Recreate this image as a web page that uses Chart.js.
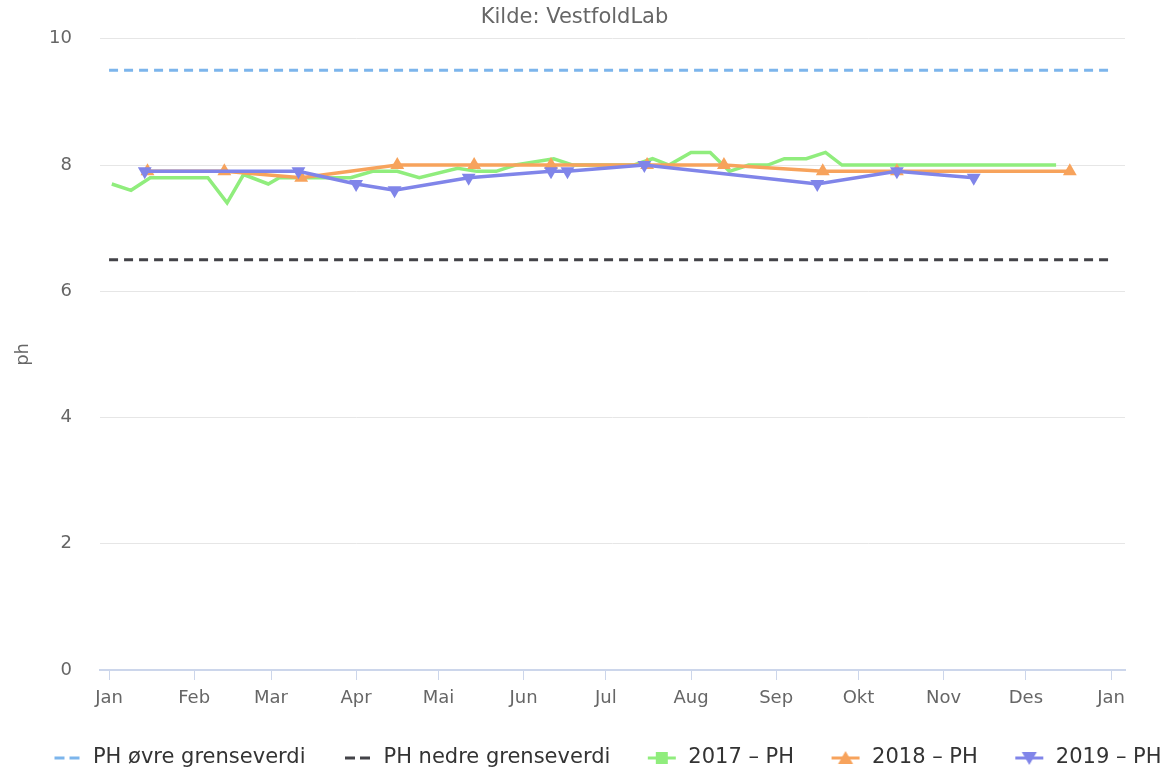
<!DOCTYPE html>
<html>
<head>
<meta charset="utf-8">
<title>pH VestfoldLab</title>
<script src="https://cdn.jsdelivr.net/npm/chart.js@4.4.1/dist/chart.umd.min.js"></script>
<style>
    html, body { margin: 0; padding: 0; background: #ffffff; }
    #phChart { display: block; }
</style>
</head>
<body>
<canvas id="phChart" width="1171" height="775"></canvas>
<script>
// x axis: day of year, ticks on first day of each month
var monthDays = [0, 31, 59, 90, 120, 151, 181, 212, 243, 273, 304, 334, 365];
var monthLabels = ["Jan", "Feb", "Mar", "Apr", "Mai", "Jun", "Jul", "Aug", "Sep", "Okt", "Nov", "Des", "Jan"];
var yTicks = [0, 2, 4, 6, 8, 10];

// grenseverdier
var limitDays = [0, 365];
var upperLimit = [9.5, 9.5];
var lowerLimit = [6.5, 6.5];

// 2017 - PH
var days2017 = [1, 8, 15, 36, 43, 49, 58, 62, 77, 88, 96, 105, 113, 127, 134, 141, 148, 162, 169, 191, 198, 204, 212, 219, 226, 233, 240, 246, 254, 261, 267, 345];
var ph2017 = [7.7, 7.6, 7.8, 7.8, 7.4, 7.85, 7.7, 7.8, 7.8, 7.8, 7.9, 7.9, 7.8, 7.95, 7.9, 7.9, 8.0, 8.1, 8.0, 8.0, 8.1, 8.0, 8.2, 8.2, 7.9, 8.0, 8.0, 8.1, 8.1, 8.2, 8.0, 8.0];

// 2018 - PH
var days2018 = [14, 42, 70, 105, 133, 161, 196, 224, 260, 287, 350];
var ph2018 = [7.9, 7.9, 7.8, 8.0, 8.0, 8.0, 8.0, 8.0, 7.9, 7.9, 7.9];

// 2019 - PH
var days2019 = [13, 69, 90, 104, 131, 161, 167, 195, 258, 287, 315];
var ph2019 = [7.9, 7.9, 7.7, 7.6, 7.8, 7.9, 7.9, 8.0, 7.7, 7.9, 7.8];

var titleText = "Kilde: VestfoldLab";

function points(xs, ys) {
    return xs.map(function (x, i) {
        return {x: x, y: ys[i]};
    });
}

// legend symbol: line (maybe dashed) with a marker, drawn at the right of a wide box
function legendIcon(color, dash, marker) {
    var c = document.createElement("canvas");
    c.width = 60;
    c.height = 20;
    var g = c.getContext("2d");
    g.strokeStyle = color;
    g.fillStyle = color;
    g.lineWidth = 3;
    if (dash) {
        g.setLineDash(dash);
    }
    g.beginPath();
    g.moveTo(dash ? 32 : 30, 10);
    g.lineTo(58, 10);
    g.stroke();
    if (marker === "square") {
        g.fillRect(38, 4, 12, 12);
    } else if (marker === "up") {
        g.beginPath();
        g.moveTo(44, 3);
        g.lineTo(51.5, 16);
        g.lineTo(36.5, 16);
        g.closePath();
        g.fill();
    } else if (marker === "down") {
        g.beginPath();
        g.moveTo(36.5, 4);
        g.lineTo(51.5, 4);
        g.lineTo(44, 17);
        g.closePath();
        g.fill();
    }
    return c;
}

var font = "'DejaVu Sans', Verdana, sans-serif";

// source line above the plot, a bit left of the canvas centre
var sourceTitle = {
    id: "sourceTitle",
    afterDraw: function (chart) {
        var ctx = chart.ctx;
        ctx.save();
        ctx.font = "21px " + font;
        ctx.fillStyle = "#666666";
        ctx.textAlign = "center";
        ctx.textBaseline = "middle";
        ctx.fillText(titleText, chart.width / 2 - 11, 18);
        ctx.restore();
    }
};

var datasets = [
    {
        label: "PH øvre grenseverdi",
        data: points(limitDays, upperLimit),
        borderColor: "#7cb5ec",
        borderWidth: 3,
        borderDash: [9, 6],
        pointRadius: 0,
        order: 4,
        icon: legendIcon("#7cb5ec", [10, 5], null)
    }, {
        label: "PH nedre grenseverdi",
        data: points(limitDays, lowerLimit),
        borderColor: "#434348",
        borderWidth: 3,
        borderDash: [9, 6],
        pointRadius: 0,
        order: 3,
        icon: legendIcon("#434348", [10, 5], null)
    }, {
        label: "2017 – PH",
        data: points(days2017, ph2017),
        borderColor: "#90ed7d",
        borderWidth: 3.5,
        pointRadius: 0,
        order: 2,
        icon: legendIcon("#90ed7d", null, "square")
    }, {
        label: "2018 – PH",
        data: points(days2018, ph2018),
        borderColor: "#f7a35c",
        backgroundColor: "#f7a35c",
        borderWidth: 3.5,
        pointStyle: "triangle",
        pointRadius: 8,
        pointBorderWidth: 0,
        order: 1,
        icon: legendIcon("#f7a35c", null, "up")
    }, {
        label: "2019 – PH",
        data: points(days2019, ph2019),
        borderColor: "#8085e9",
        backgroundColor: "#8085e9",
        borderWidth: 3.5,
        pointStyle: "triangle",
        pointRotation: 180,
        pointRadius: 8,
        pointBorderWidth: 0,
        order: 0,
        icon: legendIcon("#8085e9", null, "down")
    }
];

var options = {
    responsive: false,
    devicePixelRatio: 1,
    animation: false,
    layout: {
        padding: {left: 13, right: 0, top: 38, bottom: 0}
    },
    elements: {
        line: {tension: 0, fill: false}
    },
    scales: {
        x: {
            type: "linear",
            min: -3.3,
            max: 370.1,
            afterBuildTicks: function (scale) {
                scale.ticks = monthDays.map(function (d) {
                    return {value: d};
                });
            },
            afterFit: function (scale) {
                scale.height = 70;
                // room on the right of the plot, legend keeps the full width
                scale.paddingRight = 46;
            },
            ticks: {
                autoSkip: false,
                maxRotation: 0,
                padding: 8,
                color: "#666666",
                font: {family: font, size: 18},
                callback: function (value, index) {
                    return monthLabels[index];
                }
            },
            grid: {
                drawOnChartArea: false,
                drawTicks: true,
                tickLength: 10,
                color: "#ccd6eb",
                lineWidth: 1
            },
            border: {color: "#ccd6eb", width: 2}
        },
        y: {
            min: 0,
            max: 10,
            afterBuildTicks: function (scale) {
                scale.ticks = yTicks.map(function (v) {
                    return {value: v};
                });
            },
            afterFit: function (scale) {
                scale.width = 87;
            },
            ticks: {
                padding: 28,
                color: "#666666",
                font: {family: font, size: 18}
            },
            grid: {
                color: "#e6e6e6",
                lineWidth: 1,
                drawTicks: false
            },
            border: {display: false},
            title: {
                display: true,
                text: "ph",
                color: "#666666",
                font: {family: font, size: 18},
                padding: {top: 0, bottom: 0}
            }
        }
    },
    plugins: {
        title: {display: false},
        legend: {
            position: "bottom",
            maxHeight: 35,
            labels: {
                usePointStyle: true,
                pointStyleWidth: 60,
                padding: 7.5,
                color: "#333333",
                font: {family: font, size: 21},
                generateLabels: function (chart) {
                    return chart.data.datasets.map(function (ds, i) {
                        return {
                            text: ds.label,
                            datasetIndex: i,
                            pointStyle: ds.icon,
                            fillStyle: ds.borderColor,
                            strokeStyle: ds.borderColor,
                            fontColor: "#333333",
                            lineWidth: 0,
                            hidden: false
                        };
                    });
                }
            }
        },
        tooltip: {enabled: false}
    }
};

new Chart(document.getElementById("phChart").getContext("2d"), {
    type: "line",
    data: {datasets: datasets},
    options: options,
    plugins: [sourceTitle]
});
</script>
</body>
</html>
